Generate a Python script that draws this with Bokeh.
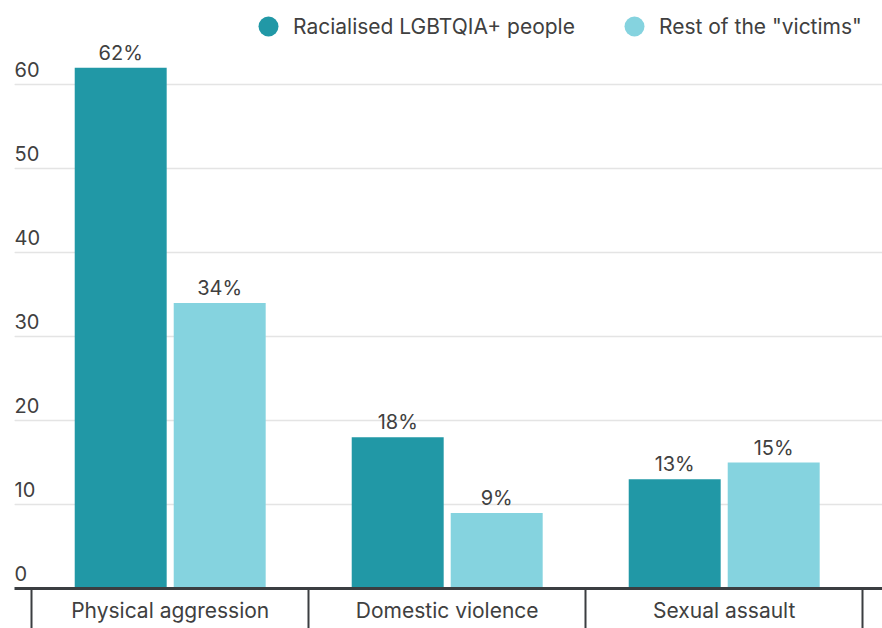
from bokeh.plotting import figure
from bokeh.models import ColumnDataSource, FixedTicker, Legend, LegendItem, Grid, LabelSet
from bokeh.transform import dodge
from bokeh.core.properties import value
from bokeh.embed import file_html
from bokeh.resources import INLINE

# ---- data ----
categories = ["Physical aggression", "Domestic violence", "Sexual assault"]
racialised = [62, 18, 13]
rest = [34, 9, 15]
series_names = ["Racialised LGBTQIA+ people", 'Rest of the "victims"']
y_ticks = [0, 10, 20, 30, 40, 50, 60]

# ---- style ----
FONT = "Inter"
FS_CAT = "21px"
FS_VAL = "20px"
TEXT = "#404040"
DARK = "#2198a6"
LIGHT = "#85d3df"
AXIS = "#3b3e41"

W, H = 882, 628
BOTTOM = 40
LEFT = 14
PX_PER_UNIT_Y = 8.4

pos = list(range(1, len(categories) + 1))
src = ColumnDataSource(dict(
    x=pos, cat=categories, a=racialised, b=rest,
    a_lab=[f"{v}%" for v in racialised], b_lab=[f"{v}%" for v in rest]))

x_start = 0.4379
x_end = x_start + (W - LEFT) / 277.0
y_end = (H - BOTTOM) / PX_PER_UNIT_Y

p = figure(width=W, height=H, x_range=(x_start, x_end), y_range=(0, y_end),
           output_backend="svg", toolbar_location=None, y_axis_location=None,
           min_border_left=LEFT, min_border_right=0, min_border_top=0,
           min_border_bottom=BOTTOM)
p.outline_line_color = None
p.background_fill_color = "white"
p.border_fill_color = "white"

grid = Grid(dimension=1, ticker=FixedTicker(ticks=y_ticks),
            grid_line_color="#e4e4e4", grid_line_width=1.5)
p.add_layout(grid)
p.xgrid.visible = False

ax = p.xaxis[0]
ax.ticker = FixedTicker(ticks=pos, minor_ticks=[i - 0.5 for i in pos] + [pos[-1] + 0.5])
ax.major_label_overrides = {i: c for i, c in zip(pos, categories)}
ax.major_tick_line_color = None
ax.major_tick_out = 0
ax.major_tick_in = 0
ax.minor_tick_out = BOTTOM
ax.minor_tick_in = 0
ax.minor_tick_line_color = AXIS
ax.minor_tick_line_width = 2
ax.axis_line_color = AXIS
ax.axis_line_width = 3
ax.major_label_standoff = -31
ax.major_label_text_font = FONT
ax.major_label_text_font_size = FS_CAT
ax.major_label_text_color = TEXT

off = 0.1787
bw = 0.332
p.vbar(x=dodge("x", -off, range=p.x_range), top="a", width=bw, source=src,
       fill_color=DARK, line_color=None)
p.vbar(x=dodge("x", off, range=p.x_range), top="b", width=bw, source=src,
       fill_color=LIGHT, line_color=None)

for col, lab, o in (("a", "a_lab", -off), ("b", "b_lab", off)):
    p.add_layout(LabelSet(x=dodge("x", o, range=p.x_range), y=col, text=lab, source=src,
                          text_align="center", text_baseline="alphabetic", y_offset=8,
                          text_font=value(FONT), text_font_size=value(FS_VAL),
                          text_color=TEXT))

ysrc = ColumnDataSource(dict(x=[x_start] * len(y_ticks), y=y_ticks,
                             t=[str(t) for t in y_ticks]))
p.add_layout(LabelSet(x="x", y="y", text="t", source=ysrc, text_align="left",
                      text_baseline="alphabetic", y_offset=8,
                      text_font=value(FONT), text_font_size=value(FS_VAL),
                      text_color=TEXT))

r1 = p.scatter(x="x", y="a", size=0, source=src, fill_color=DARK, line_color=None)
r2 = p.scatter(x="x", y="b", size=0, source=src, fill_color=LIGHT, line_color=None)
legend = Legend(items=[LegendItem(label=series_names[0], renderers=[r1]),
                       LegendItem(label=series_names[1], renderers=[r2])],
                orientation="horizontal", location=(229, 537),
                glyph_width=50, glyph_height=50, label_standoff=0, spacing=34,
                padding=0, margin=0, border_line_color=None, background_fill_alpha=0,
                label_text_font=FONT, label_text_font_size=FS_CAT, label_text_color=TEXT)
p.add_layout(legend)

open("out.html", "w").write(file_html(p, INLINE))
